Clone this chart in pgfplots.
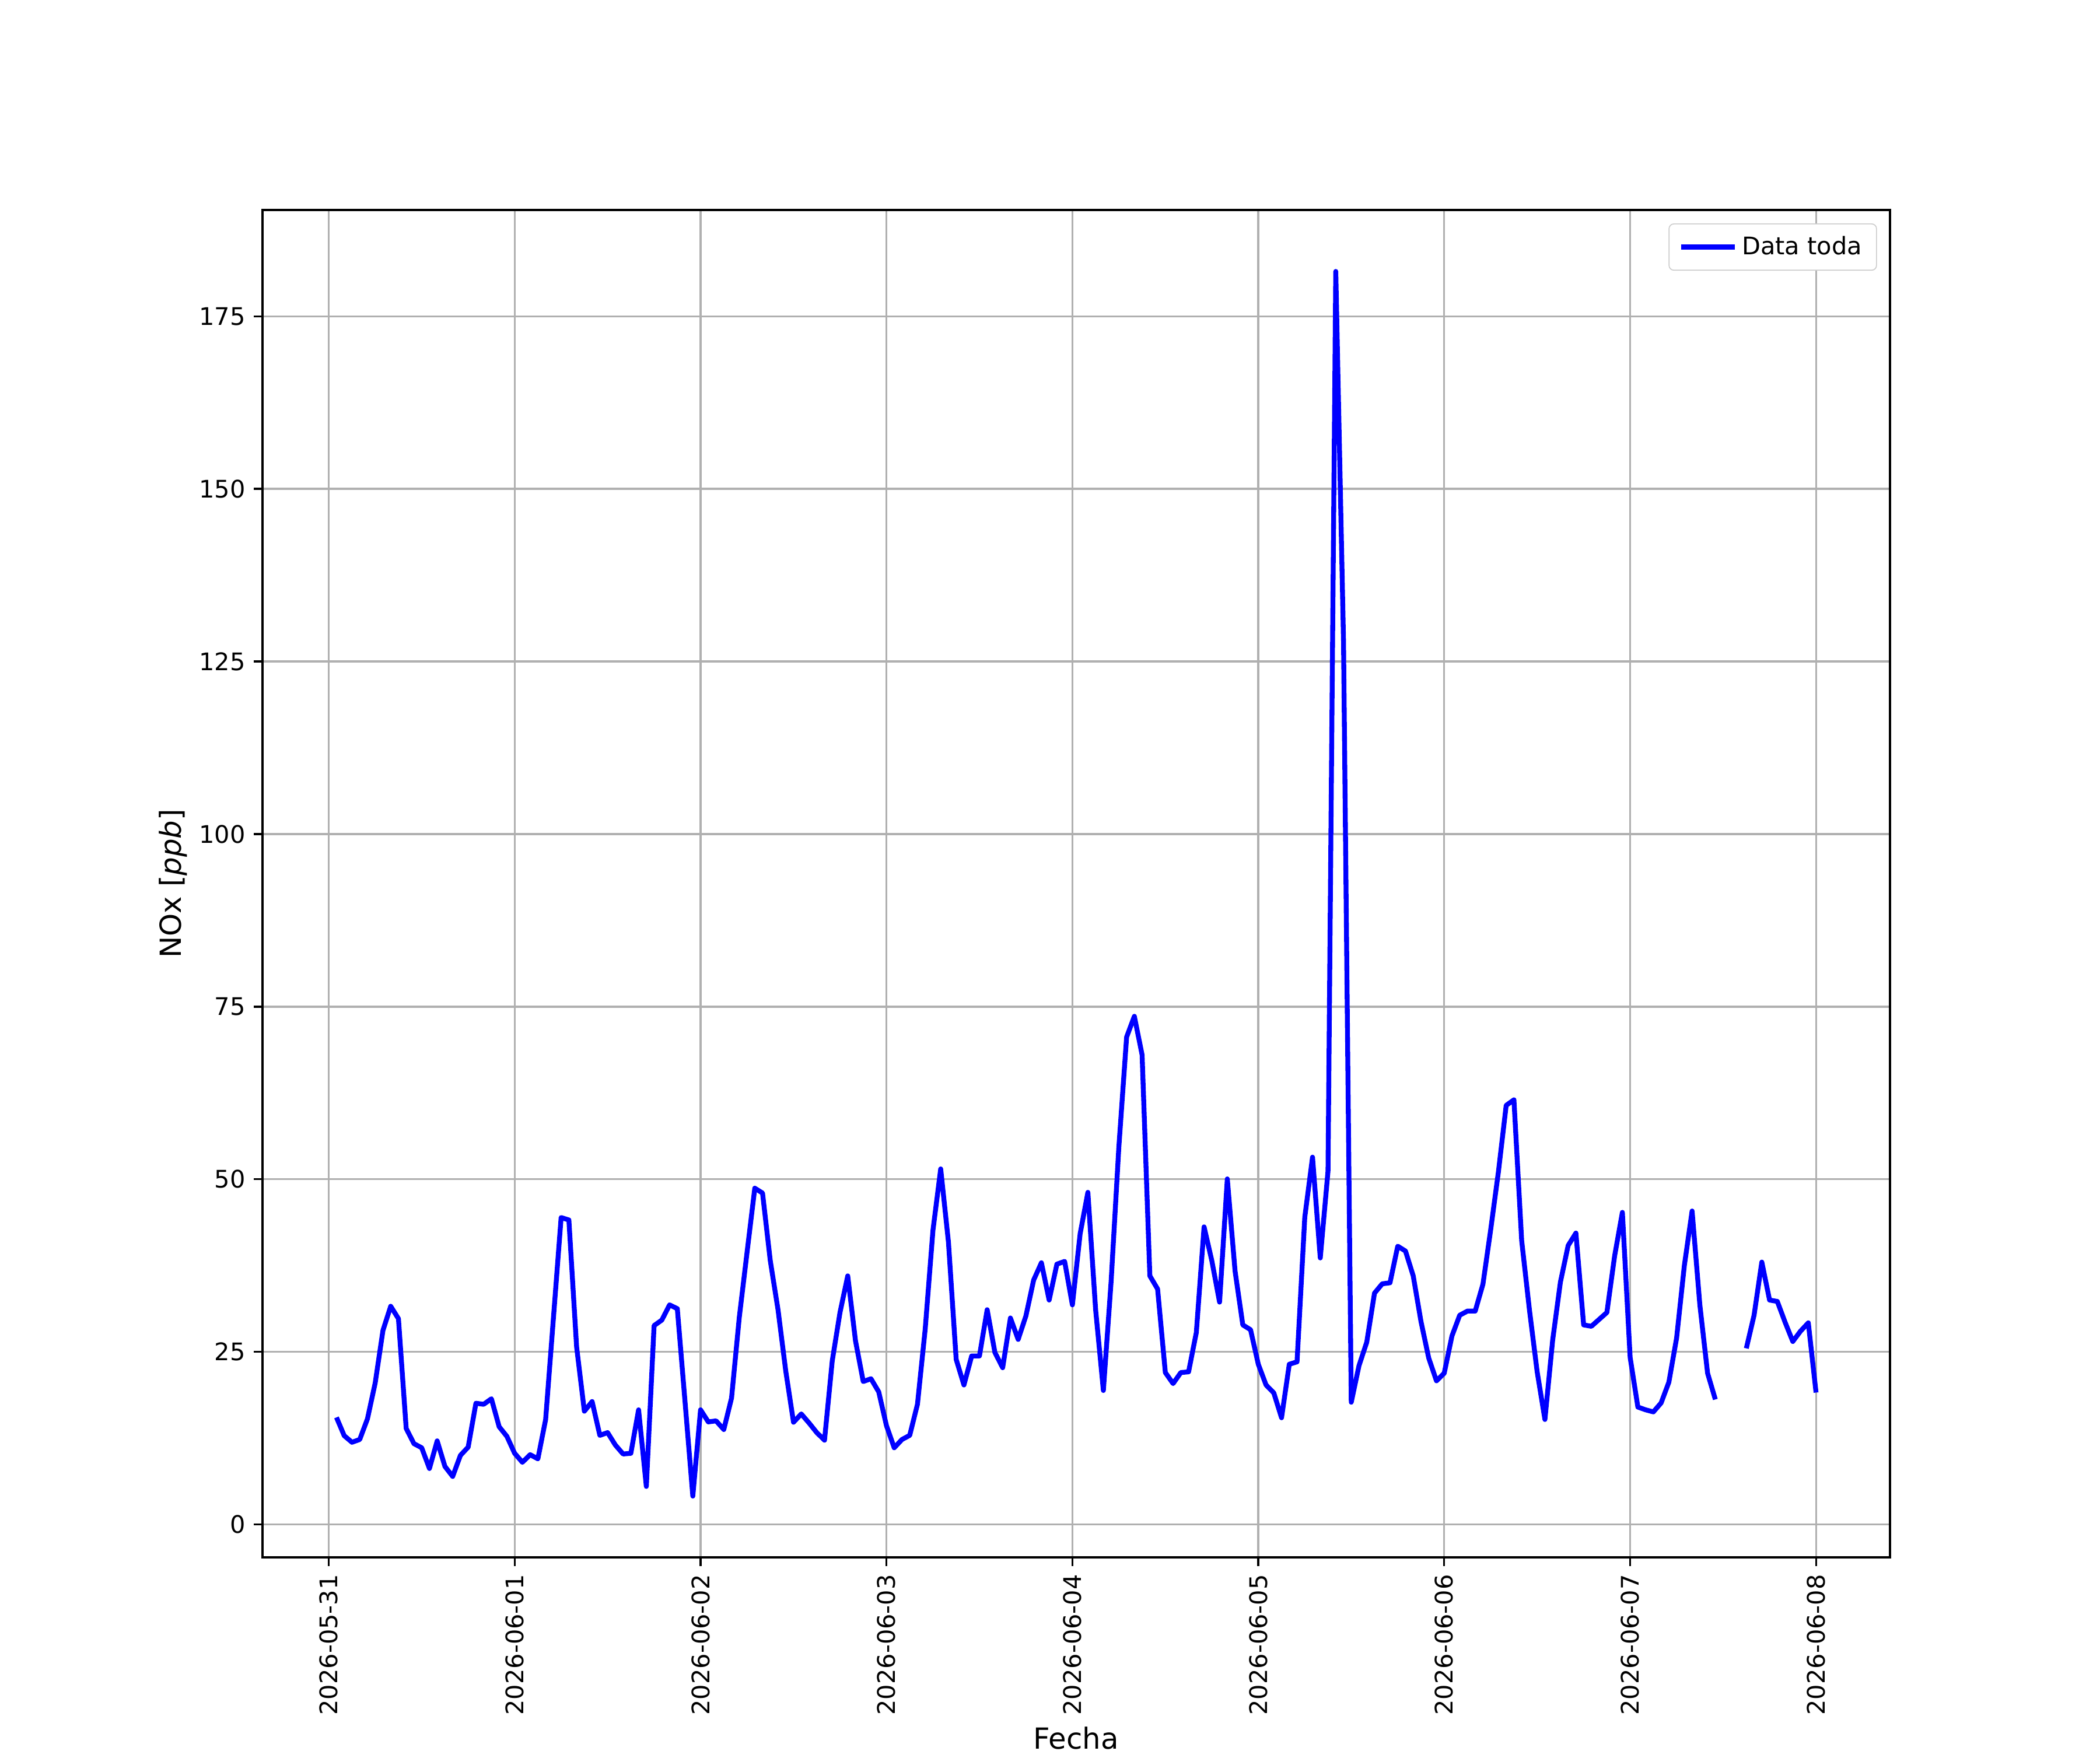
\documentclass[border=0pt]{standalone}
\usepackage{fontspec}
\setmainfont{DejaVu Sans}
\usepackage{pgfplots}
\pgfplotsset{compat=1.18}
\definecolor{gridgray}{HTML}{B0B0B0}
\begin{document}
\begin{tikzpicture}
\path (0,0) rectangle (12in,10in);
\begin{axis}[
  at={(1.5in,1.1in)}, anchor=south west,
  width=9.3in, height=7.7in, scale only axis,
  xmin=-8.55, xmax=201.55, ymin=-4.77, ymax=190.4,
  xtick={0,24,48,72,96,120,144,168,192},
  xticklabels={2026-05-31,2026-06-01,2026-06-02,2026-06-03,2026-06-04,2026-06-05,2026-06-06,2026-06-07,2026-06-08},
  xticklabel style={rotate=90, anchor=east},
  ytick={0,25,50,75,100,125,150,175},
  grid=major,
  grid style={color=gridgray, line width=0.8bp},
  tick align=outside, tick pos=left,
  major tick length=3.5bp,
  every tick/.style={black, line width=0.8bp},
  axis line style={line width=0.8bp},
  tick label style={font=\fontsize{10}{12}\selectfont},
  label style={font=\fontsize{12}{14}\selectfont},
  xlabel={Fecha}, ylabel={NOx [\textit{ppb}]},
  xlabel style={yshift=2bp},
  ylabel style={yshift=-2bp},
  /pgf/number format/assume math mode=true,
  unbounded coords=jump,
  legend style={at={(0.992,0.99)}, anchor=north east, draw=black!20, rounded corners=2bp,
    font=\fontsize{10}{12}\selectfont, inner xsep=4bp, inner ysep=3bp},
  legend cell align=left,
  legend image code/.code={\draw[#1] (-2bp,0bp) -- (20bp,0bp);},
]
\addplot[blue, line width=2bp, line join=round] table[row sep=\\] {
x y\\
1 15.5\\ 2 12.85\\ 3 11.9\\ 4 12.3\\ 5 15.3\\ 6 20.5\\ 7 28.1\\ 8 31.6\\ 9 29.8\\ 10 13.9\\
11 11.7\\ 12 11.1\\ 13 8.1\\ 14 12.1\\ 15 8.4\\ 16 6.95\\ 17 10.0\\ 18 11.2\\ 19 17.55\\ 20 17.4\\
21 18.2\\ 22 14.15\\ 23 12.75\\ 24 10.3\\ 25 9.0\\ 26 10.1\\ 27 9.5\\ 28 15.2\\ 29 29.8\\ 30 44.45\\
31 44.1\\ 32 25.7\\ 33 16.4\\ 34 17.8\\ 35 12.9\\ 36 13.3\\ 37 11.5\\ 38 10.2\\ 39 10.3\\ 40 16.6\\
41 5.5\\ 42 28.8\\ 43 29.6\\ 44 31.8\\ 45 31.25\\ 46 17.7\\ 47 4.1\\ 48 16.6\\ 49 14.85\\ 50 15.0\\
51 13.75\\ 52 18.3\\ 53 30.0\\ 54 39.4\\ 55 48.7\\ 56 48.0\\ 57 38.2\\ 58 31.1\\ 59 22.2\\ 60 14.8\\
61 16.0\\ 62 14.7\\ 63 13.3\\ 64 12.2\\ 65 23.7\\ 66 30.7\\ 67 36.0\\ 68 26.6\\ 69 20.7\\ 70 21.1\\
71 19.2\\ 72 14.3\\ 73 11.1\\ 74 12.3\\ 75 12.9\\ 76 17.4\\ 77 28.3\\ 78 42.6\\ 79 51.5\\ 80 40.9\\
81 23.9\\ 82 20.2\\ 83 24.4\\ 84 24.4\\ 85 31.1\\ 86 24.9\\ 87 22.7\\ 88 29.9\\ 89 26.8\\ 90 30.2\\
91 35.4\\ 92 37.9\\ 93 32.5\\ 94 37.7\\ 95 38.1\\ 96 31.8\\ 97 42.1\\ 98 48.1\\ 99 31.1\\ 100 19.4\\
101 35.2\\ 102 54.7\\ 103 70.6\\ 104 73.6\\ 105 68.0\\ 106 36.0\\ 107 34.1\\ 108 22.0\\ 109 20.4\\ 110 22.0\\
111 22.1\\ 112 27.8\\ 113 43.1\\ 114 38.2\\ 115 32.2\\ 116 50.05\\ 117 36.7\\ 118 28.9\\ 119 28.2\\ 120 23.2\\
121 20.2\\ 122 19.05\\ 123 15.45\\ 124 23.2\\ 125 23.55\\ 126 44.5\\ 127 53.2\\ 128 38.6\\ 129 51.2\\ 130 181.5\\
131 128.0\\ 132 17.7\\ 133 23.0\\ 134 26.4\\ 135 33.5\\ 136 34.85\\ 137 35.0\\ 138 40.3\\ 139 39.6\\ 140 36.0\\
141 29.4\\ 142 24.1\\ 143 20.8\\ 144 21.9\\ 145 27.3\\ 146 30.3\\ 147 30.9\\ 148 30.9\\ 149 34.8\\ 150 42.7\\
151 51.1\\ 152 60.7\\ 153 61.5\\ 154 41.1\\ 155 31.1\\ 156 22.1\\ 157 15.2\\ 158 26.7\\ 159 35.1\\ 160 40.4\\
161 42.2\\ 162 28.9\\ 163 28.7\\ 164 29.7\\ 165 30.7\\ 166 38.9\\ 167 45.2\\ 168 24.2\\ 169 17.0\\ 170 16.6\\
171 16.3\\ 172 17.6\\ 173 20.6\\ 174 27.0\\ 175 37.5\\ 176 45.4\\ 177 31.8\\ 178 21.9\\ 179 18.1\\ 180 nan\\
181 nan\\ 182 nan\\ 183 25.5\\ 184 30.3\\ 185 38.0\\ 186 32.5\\ 187 32.3\\ 188 29.3\\ 189 26.5\\ 190 28.0\\
191 29.2\\ 192 19.1\\
};
\addlegendentry{Data toda}
\end{axis}
\end{tikzpicture}
\end{document}
